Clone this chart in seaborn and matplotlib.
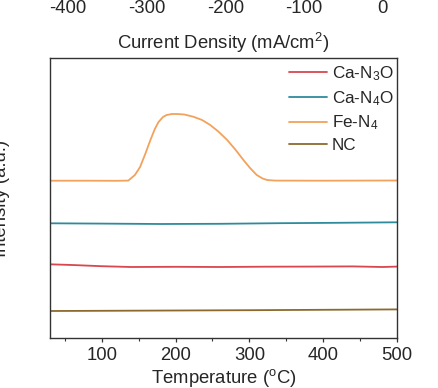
import numpy as np
import pandas as pd
import matplotlib
matplotlib.use("Agg")
import matplotlib.pyplot as plt
import seaborn as sns

sns.set_theme(style="white")
plt.rcParams['font.family'] = ['Liberation Sans', 'DejaVu Sans']
plt.rcParams['mathtext.fontset'] = 'custom'
plt.rcParams['mathtext.rm'] = 'Liberation Sans'
plt.rcParams['mathtext.it'] = 'Liberation Sans'
plt.rcParams['axes.unicode_minus'] = False

# ---- data (offsets in a.u.) ----
labels = ["Ca-N$_3$O", "Ca-N$_4$O", "Fe-N$_4$", "NC"]
colors = ["#d9464f", "#2f8b9c", "#f2a25c", "#8c6a2e"]

t_can3o = [30, 60, 100, 140, 200, 260, 320, 380, 440, 480, 500]
y_can3o = [73.7, 73.0, 71.8, 71.0, 71.2, 71.0, 71.3, 71.4, 71.6, 71.0, 71.4]

t_can4o = [30, 100, 180, 260, 340, 420, 500]
y_can4o = [114.7, 114.4, 114.0, 114.2, 114.8, 115.2, 115.7]

t_fen4 = [30, 80, 120, 136, 145, 152, 159, 166, 172, 177, 183, 188, 195, 202,
          212, 224, 236, 247, 258, 270, 281, 292, 301, 310, 318, 324, 335, 400, 500]
y_fen4 = [157.3, 157.3, 157.2, 157.4, 163, 171, 184, 198, 209, 216, 221, 223, 224, 224,
          223.5, 221.3, 218, 213, 206.5, 198, 188.5, 178, 170, 163, 159.5, 158, 157.4, 157.3, 157.5]

t_nc = [30, 100, 200, 300, 400, 500]
y_nc = [27.0, 27.2, 27.5, 27.8, 28.2, 28.6]

top_ticks = [-400, -300, -200, -100, 0]

frames = []
for lab, t, y in zip(labels, [t_can3o, t_can4o, t_fen4, t_nc],
                     [y_can3o, y_can4o, y_fen4, y_nc]):
    frames.append(pd.DataFrame({"Temperature": t, "Intensity": y, "Sample": lab}))
df = pd.concat(frames, ignore_index=True)

W, H = 439, 388
fig = plt.figure(figsize=(W / 100, H / 100), dpi=100)
l, r, t_, b = 50, 397, 58, 338
ax = fig.add_axes([l / W, 1 - b / H, (r - l) / W, (b - t_) / H])

sns.lineplot(data=df, x="Temperature", y="Intensity", hue="Sample",
             hue_order=labels, palette=colors, sort=False, estimator=None,
             linewidth=1.3, ax=ax)

ax.set_xlim(30, 500)
ax.set_ylim(0, 280)
ax.set_yticks([])
ax.set_xticks([100, 200, 300, 400, 500])
ax.set_xticks([50, 150, 250, 350, 450], minor=True)
ax.tick_params(axis='x', which='major', direction='out', length=3, width=0.9,
               color='#333333', labelsize=13.3, pad=3.5, bottom=True)
ax.tick_params(axis='x', which='minor', direction='out', length=2, width=0.8,
               color='#333333', bottom=True)
for s in ax.spines.values():
    s.set_color('#333333')
    s.set_linewidth(1.0)
ax.set_xlabel("Temperature ($^{\\rm o}$C)", fontsize=13.3, labelpad=2)
ax.set_ylabel("Intensity (a.u.)", fontsize=13.3)
ax.yaxis.set_label_coords((10.5 - l) / (r - l), 0.5)

leg = ax.legend(loc='upper right', frameon=False, fontsize=12.3,
                handlelength=2.2, handletextpad=0.3, labelspacing=0.35,
                borderaxespad=0.2,
                bbox_to_anchor=(1.0 + 7 / (r - l), 1.0 + 4 / (b - t_)))
for line in leg.get_lines():
    line.set_linewidth(1.3)

# top axis (current density) belonging to the panel above
axt = fig.add_axes([l / W, (H + 3) / H, (r - l) / W, 0.01])
axt.set_xlim(-423, 18)
axt.set_xticks(top_ticks)
axt.set_yticks([])
for s in axt.spines.values():
    s.set_visible(False)
axt.patch.set_alpha(0)
axt.tick_params(axis='x', length=0, labelsize=13.3, pad=2)
axt.set_xlabel("Current Density (mA/cm$^2$)", fontsize=13.3, labelpad=10)

fig.savefig("out.png", dpi=100)
